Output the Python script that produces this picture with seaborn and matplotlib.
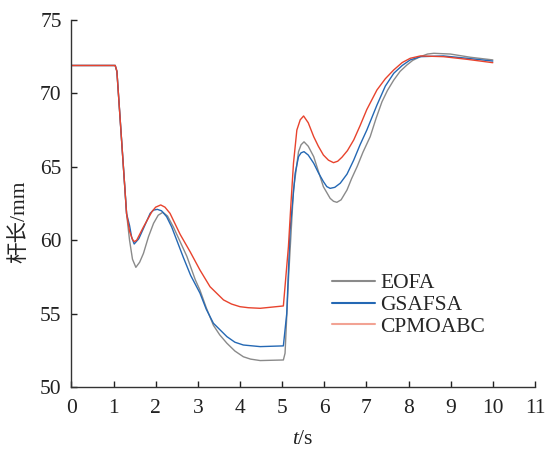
import numpy as np
import pandas as pd
import seaborn as sns
import matplotlib
matplotlib.use("Agg")
import matplotlib.pyplot as plt
from matplotlib.lines import Line2D

# Rod length (mm) versus time (s) for three optimisation methods
t_eofa = [0, 1.04, 1.08, 1.31, 1.38, 1.45, 1.53, 1.62, 1.71, 1.83, 1.95, 2.06, 2.17,
          2.28, 2.42, 2.58, 2.74, 2.94, 3.05, 3.2, 3.37, 3.52, 3.69, 3.88, 4.08, 4.25,
          4.48, 5.03, 5.07, 5.15, 5.27, 5.39, 5.45, 5.52, 5.62, 5.75, 5.86, 5.98, 6.14,
          6.22, 6.30, 6.40, 6.54, 6.65, 6.78, 6.92, 7.09, 7.23, 7.37, 7.5, 7.65, 7.8,
          7.96, 8.1, 8.28, 8.45, 8.6, 8.99, 9.47, 10.0]
v_eofa = [71.9, 71.9, 71.5, 61.8, 60.0, 58.7, 58.15, 58.5, 59.1, 60.24, 61.15, 61.7,
          61.9, 61.65, 60.9, 59.9, 58.9, 57.3, 56.6, 55.4, 54.2, 53.55, 52.98, 52.45,
          52.06, 51.9, 51.8, 51.84, 52.3, 57.3, 63.42, 66.03, 66.5, 66.7, 66.4, 65.69,
          64.7, 63.64, 62.85, 62.65, 62.58, 62.75, 63.42, 64.2, 65.01, 66.0, 67.05, 68.3,
          69.43, 70.2, 70.91, 71.5, 71.93, 72.25, 72.5, 72.68, 72.73, 72.68, 72.46, 72.28]

t_gsafsa = [0, 1.04, 1.08, 1.31, 1.38, 1.43, 1.49, 1.60, 1.71, 1.87, 1.95, 2.04, 2.14,
            2.26, 2.38, 2.50, 2.66, 2.83, 3.05, 3.2, 3.37, 3.69, 3.88, 4.08, 4.48, 5.03,
            5.11, 5.19, 5.31, 5.39, 5.45, 5.52, 5.62, 5.75, 5.86, 5.98, 6.06, 6.14, 6.25,
            6.38, 6.54, 6.70, 6.85, 7.01, 7.25, 7.45, 7.65, 7.85, 8.04, 8.28, 8.83, 9.39,
            10.0]
v_gsafsa = [71.9, 71.9, 71.5, 61.8, 61.0, 60.2, 59.74, 60.1, 60.8, 61.83, 62.05, 62.1,
            62.0, 61.6, 60.9, 60.0, 58.8, 57.6, 56.4, 55.3, 54.34, 53.43, 53.05, 52.86,
            52.75, 52.8, 55.0, 60.7, 64.56, 65.69, 65.95, 66.03, 65.8, 65.24, 64.6, 63.99,
            63.65, 63.53, 63.6, 63.88, 64.5, 65.46, 66.5, 67.5, 69.2, 70.5, 71.37, 71.9,
            72.28, 72.5, 72.55, 72.39, 72.2]

t_cpmoabc = [0, 1.04, 1.08, 1.31, 1.38, 1.45, 1.49, 1.55, 1.71, 1.91, 2.0, 2.12, 2.22,
             2.34, 2.58, 2.82, 3.05, 3.29, 3.61, 3.8, 4.0, 4.2, 4.48, 5.03, 5.15, 5.21,
             5.27, 5.35, 5.43, 5.51, 5.62, 5.75, 5.86, 5.98, 6.1, 6.22, 6.32, 6.42, 6.55,
             6.70, 6.85, 7.01, 7.25, 7.45, 7.65, 7.85, 8.04, 8.28, 8.83, 9.39, 10.0]
v_cpmoabc = [71.9, 71.9, 71.5, 61.8, 60.6, 60.05, 59.9, 60.0, 60.9, 61.94, 62.25, 62.4,
             62.25, 61.83, 60.4, 59.2, 57.97, 56.83, 55.93, 55.65, 55.47, 55.4, 55.36,
             55.52, 59.56, 62.5, 65.24, 67.5, 68.2, 68.46, 68.0, 67.05, 66.4, 65.8, 65.45,
             65.28, 65.38, 65.65, 66.1, 66.83, 67.8, 68.9, 70.23, 71.0, 71.6, 72.1, 72.39,
             72.55, 72.5, 72.32, 72.09]

methods = ["EOFA", "GSAFSA", "CPMOABC"]
line_colors = {"EOFA": "#8a8a8a", "GSAFSA": "#2468b4", "CPMOABC": "#e8432d"}
legend_colors = {"EOFA": "#8a8a8a", "GSAFSA": "#2468b4", "CPMOABC": "#f2a394"}

frames = []
for name, t, v in zip(methods, [t_eofa, t_gsafsa, t_cpmoabc],
                      [v_eofa, v_gsafsa, v_cpmoabc]):
    frames.append(pd.DataFrame({"t": t, "len": v, "method": name}))
df = pd.concat(frames, ignore_index=True)

sns.set_theme(style="ticks")
plt.rcParams["font.family"] = ["Liberation Serif", "Noto Sans CJK SC"]
plt.rcParams["mathtext.fontset"] = "custom"
plt.rcParams["mathtext.rm"] = "Liberation Serif"
plt.rcParams["mathtext.it"] = "Liberation Serif:italic"

fig = plt.figure(figsize=(5.47, 4.54), dpi=100)
ax = fig.add_axes([0.1305, 0.1476, 0.978 - 0.1305, 0.956 - 0.1476])

sns.lineplot(data=df, x="t", y="len", hue="method", hue_order=methods,
             palette=line_colors, estimator=None, sort=False, linewidth=1.0,
             ax=ax, legend=False)

ax.set_xlim(0, 11)
ax.set_ylim(50, 75)
ax.set_xticks(range(0, 12))
ax.set_yticks(range(50, 76, 5))
ax.tick_params(direction="in", length=4, width=1.0, labelsize=15.5,
               colors="#222222", pad=7)
ax.tick_params(axis="x", pad=9)
for side in ["top", "right"]:
    ax.spines[side].set_visible(False)
for side in ["left", "bottom"]:
    ax.spines[side].set_color("#333333")
    ax.spines[side].set_linewidth(1.0)

ax.set_xlabel("$t$/s", fontsize=15.5, color="#222222")
ax.xaxis.set_label_coords(0.5, -0.118)
ax.set_ylabel("杆长/mm", fontsize=15.5, color="#222222")
ax.yaxis.set_label_coords(-0.09, 0.45)

handles = [Line2D([], [], color=legend_colors[m], linewidth=1.5) for m in methods]
ax.legend(handles, methods, loc="upper left", bbox_to_anchor=(0.562, 0.31),
          frameon=False, fontsize=15.5, handlelength=2.0, handletextpad=0.25,
          labelspacing=0.08, borderpad=0, borderaxespad=0)

fig.savefig("out.png", dpi=100)
